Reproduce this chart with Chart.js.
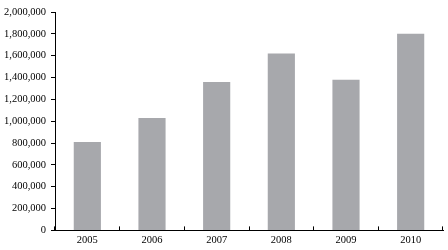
<!DOCTYPE html>
<html>
<head>
<meta charset="utf-8">
<script src="https://cdn.jsdelivr.net/npm/chart.js@4.4.1/dist/chart.umd.min.js"></script>
<style>
  body { margin: 0; background: #fff; }
  #wrap { width: 448px; height: 250px; }
</style>
</head>
<body>
<div id="wrap"><canvas id="chart" width="448" height="250"></canvas></div>
<script>
// data
const years = ['2005', '2006', '2007', '2008', '2009', '2010'];
const values = [810000, 1030000, 1360000, 1620000, 1380000, 1800000];
const yMax = 2000000;
const yStep = 200000;

const barColor = '#a7a8ac';
const axisColor = '#000';
const labelFont = { family: '"Liberation Serif", "Times New Roman", serif', size: 10.5 };

const ctx = document.getElementById('chart');

new Chart(ctx, {
  type: 'bar',
  data: {
    labels: years,
    datasets: [{
      data: values,
      backgroundColor: barColor,
      borderWidth: 0,
      barPercentage: 0.42,
      categoryPercentage: 1,
    }],
  },
  options: {
    responsive: false,
    animation: false,
    layout: { padding: { top: 12, right: 5, left: -1, bottom: -5 } },
    plugins: {
      legend: { display: false },
      tooltip: { enabled: false },
    },
    scales: {
      x: {
        offset: true,
        grid: {
          offset: true,
          drawOnChartArea: false,
          drawTicks: true,
          tickLength: -4,
          color: axisColor,
          lineWidth: 1,
        },
        border: { color: axisColor, width: 1 },
        ticks: {
          color: '#000',
          font: labelFont,
          padding: 8,
        },
      },
      y: {
        min: 0,
        max: yMax,
        grid: {
          drawOnChartArea: false,
          drawTicks: true,
          tickLength: 4,
          color: axisColor,
          lineWidth: 1,
        },
        border: { color: axisColor, width: 1 },
        ticks: {
          stepSize: yStep,
          color: '#000',
          font: labelFont,
          padding: 5,
          callback: (v) => v.toLocaleString('en-US'),
        },
      },
    },
  },
});
</script>
</body>
</html>
